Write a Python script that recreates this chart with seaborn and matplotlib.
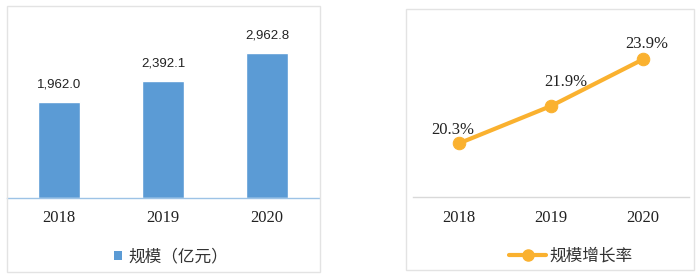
import matplotlib
matplotlib.use("Agg")
import matplotlib.pyplot as plt
import seaborn as sns
import pandas as pd
from matplotlib.patches import Rectangle
from matplotlib.lines import Line2D

years = ["2018", "2019", "2020"]
scale_values = [1962.0, 2392.1, 2962.8]
growth_values = [20.3, 21.9, 23.9]
bar_legend = "规模（亿元）"
line_legend = "规模增长率"

sns.set_theme(style="white")
plt.rcParams['font.family'] = ['Noto Sans CJK SC', 'DejaVu Sans']

BLUE = "#5B9BD5"
ORANGE = "#FAB12F"

W, H = 700, 278
fig = plt.figure(figsize=(W / 100, H / 100), dpi=100)

def fbox(x0, y0, x1, y1):
    return [x0 / W, 1 - y1 / H, (x1 - x0) / W, (y1 - y0) / H]

# Panel frames
for (x0, y0, x1, y1) in [(7, 6, 320, 272), (406, 9, 694, 270)]:
    fig.patches.append(Rectangle((x0 / W, 1 - y1 / H), (x1 - x0) / W, (y1 - y0) / H,
                                 transform=fig.transFigure, fill=False,
                                 edgecolor="#E3E3E3", linewidth=1))

df_bar = pd.DataFrame({"year": years, "value": scale_values})
df_line = pd.DataFrame({"year": years, "value": growth_values})

# Left: bars
ax1 = fig.add_axes(fbox(7, 27, 319, 198))
sns.barplot(data=df_bar, x="year", y="value", color=BLUE, width=0.4,
            saturation=1, ax=ax1)
ax1.set_xlim(-0.5, 2.5)
ax1.set_ylim(0, 3500)
for p, v in zip(ax1.patches, scale_values):
    ax1.annotate(f"{v:,.1f}", (p.get_x() + p.get_width() / 2, p.get_height()),
                 xytext=(0, 12), textcoords="offset pixels", ha="center", va="bottom",
                 fontsize=9.5, family=["Liberation Sans"], color="#222222")
ax1.set_xlabel("")
ax1.set_ylabel("")
ax1.set_yticks([])
for s in ["top", "right", "left"]:
    ax1.spines[s].set_visible(False)
ax1.spines["bottom"].set_color("#9DC3E6")
ax1.spines["bottom"].set_linewidth(1)
ax1.tick_params(axis="x", length=0, pad=9)
for t in ax1.get_xticklabels():
    t.set_fontfamily(["Liberation Serif"])
    t.set_fontsize(12)
    t.set_color("#222222")
ax1.patch.set_alpha(0)

# Right: line
ax2 = fig.add_axes(fbox(413, 15, 689, 197))
sns.lineplot(data=df_line, x="year", y="value", color=ORANGE, linewidth=3,
             marker="o", markersize=9, markeredgecolor=ORANGE, ax=ax2)
ax2.set_xlim(-0.5, 2.5)
ax2.set_ylim(18, 25.8)
offsets = [(-6, 13), (15, 24), (4, 15)]
for i, (v, off) in enumerate(zip(growth_values, offsets)):
    ax2.annotate(f"{v:.1f}%", (i, v), xytext=off, textcoords="offset pixels",
                 ha="center", va="center", fontsize=12,
                 family=["Liberation Serif"], color="#222222")
ax2.set_xlabel("")
ax2.set_ylabel("")
ax2.set_yticks([])
for s in ["top", "right", "left"]:
    ax2.spines[s].set_visible(False)
ax2.spines["bottom"].set_color("#D9D9D9")
ax2.spines["bottom"].set_linewidth(1)
ax2.tick_params(axis="x", length=0, pad=9)
for t in ax2.get_xticklabels():
    t.set_fontfamily(["Liberation Serif"])
    t.set_fontsize(12)
    t.set_color("#222222")
ax2.patch.set_alpha(0)

# Legends
h1 = Rectangle((0, 0), 1, 1, facecolor=BLUE, edgecolor="none")
fig.legend([h1], [bar_legend], loc="center", bbox_to_anchor=(171 / W, 1 - 257 / H),
           frameon=False, fontsize=12, handlelength=0.5, handleheight=0.5,
           handletextpad=0.4, labelcolor="#333333")
h2 = Line2D([0], [0], color=ORANGE, linewidth=3, marker="o", markersize=8)
fig.legend([h2], [line_legend], loc="center", bbox_to_anchor=(571 / W, 1 - 256 / H),
           frameon=False, fontsize=12, handlelength=2.2, handletextpad=0.2,
           labelcolor="#333333")

fig.savefig("out.png", dpi=100)
